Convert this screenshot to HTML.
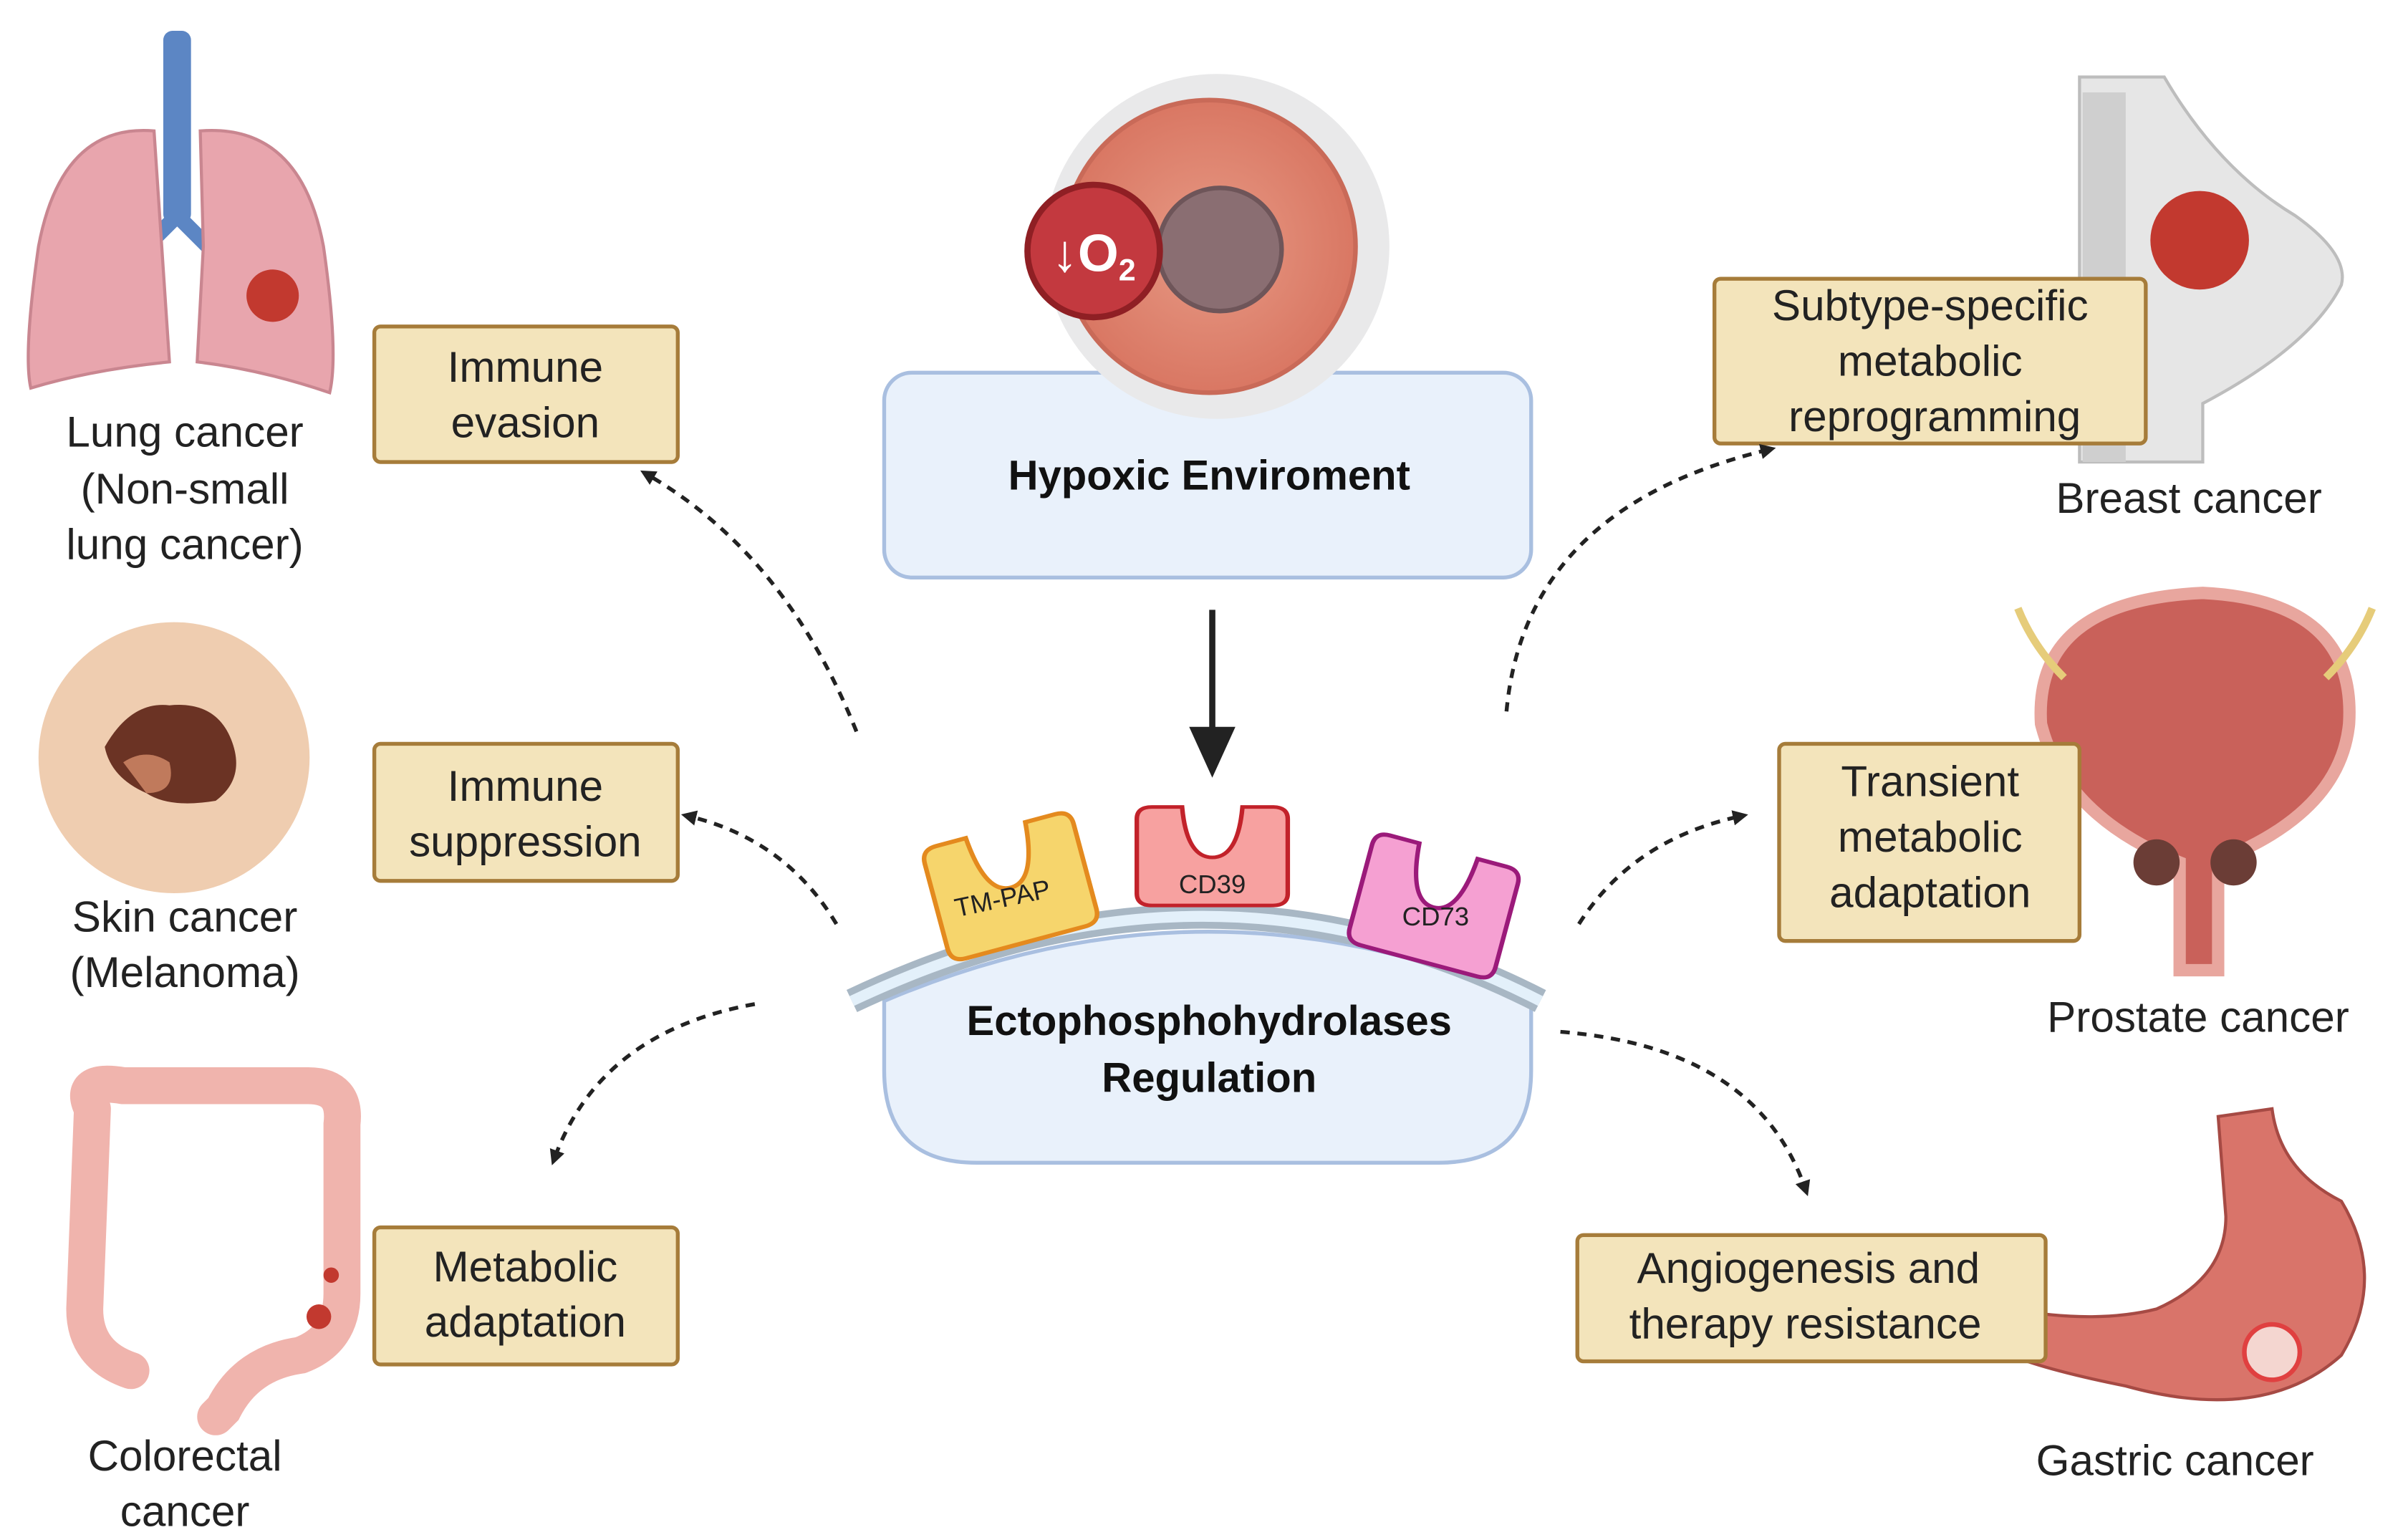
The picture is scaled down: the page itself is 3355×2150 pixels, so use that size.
<!DOCTYPE html>
<html><head><meta charset="utf-8"><style>
html,body{margin:0;padding:0;background:#fff;}
svg{display:block;}
text{font-family:"Liberation Sans",sans-serif;}
</style></head><body>
<svg width="3355" height="2150" viewBox="0 0 1560 1000" preserveAspectRatio="none" xmlns="http://www.w3.org/2000/svg">
<defs>
<marker id="ah" markerWidth="10" markerHeight="10" refX="5" refY="5" orient="auto" markerUnits="userSpaceOnUse" viewBox="0 0 10 10">
<path d="M0,0 L10,5 L0,10 Z" fill="#222"/></marker>
<path id="prot" d="M0,10 Q0,0 10,0 L30,0 Q33,42 50,42 Q67,42 70,0 L90,0 Q100,0 100,10 L100,72 Q100,82 90,82 L10,82 Q0,82 0,72 Z"/>
<radialGradient id="tum" cx="50%" cy="50%" r="50%"><stop offset="0" stop-color="#e79a85"/><stop offset="1" stop-color="#d97763"/></radialGradient>
</defs>
<rect width="1560" height="1000" fill="#fff"/>

<!-- illustrations (behind boxes) -->
<!-- breast -->
<path d="M1350,50 L1405,50 Q1440,110 1490,140 Q1525,165 1520,185 Q1500,225 1430,262 L1430,300 L1350,300 Z" fill="#e6e6e6" stroke="#bdbdbd" stroke-width="2"/>
<path d="M1352,60 L1380,60 L1380,300 L1352,300Z" fill="#cfcfcf"/>
<circle cx="1428" cy="156" r="32" fill="#c2392f"/>
<text x="1421" y="333" text-anchor="middle" font-size="28" fill="#222">Breast cancer</text>

<!-- prostate/bladder -->
<path d="M1325,470 Q1320,390 1430,385 Q1530,390 1525,470 Q1520,520 1460,550 L1440,560 L1440,630 L1415,630 L1415,560 Q1340,530 1325,470Z" fill="#c9615a" stroke="#e8a69e" stroke-width="8"/>
<circle cx="1400" cy="560" r="15" fill="#6b3d36"/><circle cx="1450" cy="560" r="15" fill="#6b3d36"/>
<path d="M1310,395 Q1320,420 1340,440 M1540,395 Q1530,420 1510,440" stroke="#e6cc7a" stroke-width="5" fill="none"/>
<text x="1427" y="670" text-anchor="middle" font-size="28" fill="#222">Prostate  cancer</text>

<!-- stomach -->
<path d="M1440,725 L1475,720 Q1480,760 1520,780 Q1550,830 1520,880 Q1470,925 1380,900 Q1330,890 1305,880 L1305,850 Q1360,860 1400,850 Q1445,830 1445,790 Z" fill="#d9746a" stroke="#a64a44" stroke-width="2"/>
<circle cx="1475" cy="878" r="18" fill="#f4d6d0" stroke="#e04040" stroke-width="3"/>
<text x="1412" y="958" text-anchor="middle" font-size="28" fill="#222">Gastric cancer</text>

<!-- hypoxic box -->
<rect x="574" y="242" width="420" height="133" rx="18" fill="#e9f1fb" stroke="#a9bfe0" stroke-width="2.5"/>
<text x="785" y="318" text-anchor="middle" font-size="27" font-weight="bold" fill="#111">Hypoxic Enviroment</text>

<!-- tumor -->
<circle cx="790" cy="160" r="112" fill="#e9e9ea"/>
<circle cx="785" cy="160" r="95" fill="url(#tum)" stroke="#c96a58" stroke-width="3"/>
<circle cx="792" cy="162" r="40" fill="#8a6e72" stroke="#6e5559" stroke-width="3"/>
<circle cx="710" cy="163" r="43" fill="#c3393f" stroke="#8f1f24" stroke-width="4"/>
<text x="710" y="176" text-anchor="middle" font-size="34" font-weight="bold" fill="#fff">↓O<tspan font-size="20" dy="6">2</tspan></text>

<!-- solid arrow -->
<line x1="787" y1="396" x2="787" y2="475" stroke="#222" stroke-width="4"/>
<path d="M772,472 L802,472 L787,505 Z" fill="#222"/>

<!-- bottom cell -->
<path d="M574,650 Q785,560 994,650 L994,695 Q994,755 934,755 L634,755 Q574,755 574,695 Z" fill="#e9f1fb" stroke="#a9bfe0" stroke-width="2.5"/>
<path d="M553,650 Q785,540 1000,650" fill="none" stroke="#a8b7c4" stroke-width="16"/>
<path d="M553,650 Q785,540 1000,650" fill="none" stroke="#e3f0fa" stroke-width="7"/>
<text x="785" y="672" text-anchor="middle" font-size="27" font-weight="bold" fill="#111">Ectophosphohydrolases</text>
<text x="785" y="709" text-anchor="middle" font-size="27" font-weight="bold" fill="#111">Regulation</text>

<!-- proteins -->
<g transform="translate(598,552) rotate(-15) scale(1.0,0.92)"><use href="#prot" fill="#f6d56c" stroke="#e48a1e" stroke-width="3"/></g>
<text x="652" y="589" text-anchor="middle" font-size="17" fill="#222" transform="rotate(-12 652 589)">TM-PAP</text>
<g transform="translate(738,524) scale(0.98,0.78)"><use href="#prot" fill="#f7a1a0" stroke="#c2222a" stroke-width="3"/></g>
<text x="787" y="580" text-anchor="middle" font-size="17" fill="#222">CD39</text>
<g transform="translate(893,540) rotate(15) scale(0.98,0.9)"><use href="#prot" fill="#f5a0d2" stroke="#9b1a7a" stroke-width="3"/></g>
<text x="932" y="601" text-anchor="middle" font-size="17" fill="#222">CD73</text>

<!-- beige boxes -->
<g fill="#f3e4bb" stroke="#a67c3a" stroke-width="2.5">
<rect x="243" y="212" width="197" height="88" rx="4"/>
<rect x="243" y="483" width="197" height="89" rx="4"/>
<rect x="243" y="797" width="197" height="89" rx="4"/>
<rect x="1113" y="181" width="280" height="107" rx="4"/>
<rect x="1155" y="483" width="195" height="128" rx="4"/>
<rect x="1024" y="802" width="304" height="82" rx="4"/>
</g>
<g font-size="28" fill="#222" text-anchor="middle">
<text x="341" y="248">Immune</text><text x="341" y="284">evasion</text>
<text x="341" y="520">Immune</text><text x="341" y="556">suppression</text>
<text x="341" y="832">Metabolic</text><text x="341" y="868">adaptation</text>
<text x="1253" y="208">Subtype-specific</text><text x="1253" y="244">metabolic</text><text x="1256" y="280">reprogramming</text>
<text x="1253" y="517">Transient</text><text x="1253" y="553">metabolic</text><text x="1253" y="589">adaptation</text>
<text x="1174" y="833">Angiogenesis and</text><text x="1172" y="869">therapy resistance</text>
</g>

<!-- dashed arrows -->
<g fill="none" stroke="#222" stroke-width="2.5" stroke-dasharray="6,5" marker-end="url(#ah)">
<path d="M556,475 Q510,360 420,308"/>
<path d="M543,600 Q510,545 447,530"/>
<path d="M490,652 Q390,670 360,752"/>
<path d="M978,462 Q990,330 1148,292"/>
<path d="M1025,600 Q1060,545 1130,530"/>
<path d="M1013,670 Q1140,680 1172,772"/>
</g>

<!-- lung -->
<rect x="106" y="20" width="18" height="125" rx="6" fill="#5c86c4"/>
<path d="M115,140 L85,170 M115,140 L145,170" stroke="#5c86c4" stroke-width="10" fill="none"/>
<path d="M100,85 Q40,80 25,160 Q15,230 20,252 Q60,240 110,235 L105,160 Z" fill="#e8a5ad" stroke="#c98690" stroke-width="2"/>
<path d="M130,85 Q195,80 210,160 Q220,230 214,255 Q170,240 128,235 L132,160 Z" fill="#e8a5ad" stroke="#c98690" stroke-width="2"/>
<circle cx="177" cy="192" r="17" fill="#c2392f"/>
<g font-size="28" fill="#222" text-anchor="middle">
<text x="120" y="290">Lung cancer</text><text x="120" y="327">(Non-small</text><text x="120" y="363">lung cancer)</text>
</g>

<!-- skin -->
<circle cx="113" cy="492" r="88" fill="#efcdb0"/>
<path d="M68,485 Q85,455 110,458 Q140,455 150,480 Q160,505 140,520 Q110,525 95,515 Q72,505 68,485Z" fill="#6b3324"/>
<path d="M80,495 Q95,485 110,495 Q115,515 95,515 Z" fill="#c07a5c"/>
<g font-size="28" fill="#222" text-anchor="middle">
<text x="120" y="605">Skin cancer</text><text x="120" y="641">(Melanoma)</text>
</g>

<!-- colon -->
<path d="M60,720 Q50,700 80,705 L200,705 Q225,705 222,730 L222,840 Q222,870 195,880 Q160,885 145,915 L140,920 M60,720 L55,850 Q55,880 85,890" fill="none" stroke="#f0b4ad" stroke-width="24" stroke-linecap="round"/>
<circle cx="207" cy="855" r="8" fill="#c2392f"/><circle cx="215" cy="828" r="5" fill="#c2392f"/>
<g font-size="28" fill="#222" text-anchor="middle">
<text x="120" y="955">Colorectal</text><text x="120" y="991">cancer</text>
</g>
</svg>
</body></html>
